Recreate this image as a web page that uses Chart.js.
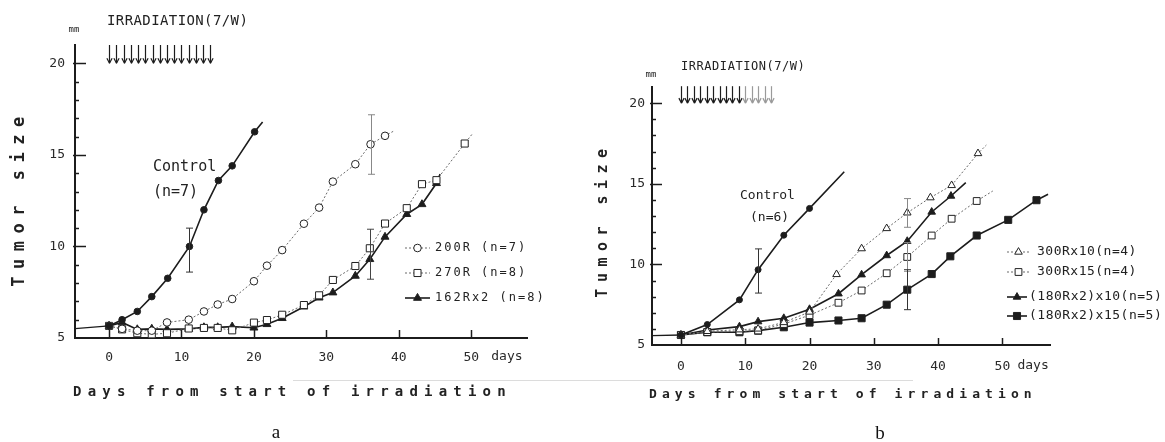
<!DOCTYPE html>
<html><head><meta charset="utf-8">
<script src="https://cdn.jsdelivr.net/npm/chart.js@4.4.1/dist/chart.umd.min.js"></script>
<style>
html,body{margin:0;padding:0;background:#fff;}
#wrap{position:relative;width:1165px;height:442px;overflow:hidden;background:#fff;}
canvas{position:absolute;left:0;top:0;}
#scan{position:absolute;left:293px;top:380px;width:620px;height:1px;background:#dcdcdc;}
</style></head>
<body><div id="wrap"><div id="scan"></div><canvas id="ca" width="1165" height="442"></canvas><canvas id="cb" width="1165" height="442"></canvas></div>
<script>
// ================= DATA =================
const Y_TICKS = [5, 10, 15, 20];
const X_TICKS = [0, 10, 20, 30, 40, 50];

// ---- panel a ----
const A_ARROW_DAYS = [0,1,2,3,4,5,6,7,8,9,10,11,12,13,14];
const A_PRE_DAYS = [-5, 0];
const A_PRE_MM = [5.5, 5.66];
const A_CONTROL_DAYS = [0, 1.8, 3.9, 5.9, 8.1, 11.1, 13.1, 15.1, 17.0, 20.1];
const A_CONTROL_MM   = [5.66, 6.0, 6.45, 7.26, 8.26, 10.0, 12.0, 13.6, 14.4, 16.26];
const A_CONTROL_TAIL = [21.2, 16.8];
const A_200R_DAYS = [0, 1.8, 3.9, 5.9, 8.0, 11.0, 13.1, 15.0, 17.0, 20.0, 21.8, 23.9, 26.9, 29.0, 30.9, 34.0, 36.1, 38.1];
const A_200R_MM   = [5.66, 5.5, 5.4, 5.4, 5.85, 6.0, 6.45, 6.83, 7.13, 8.1, 8.95, 9.8, 11.24, 12.12, 13.54, 14.49, 15.58, 16.04];
const A_200R_TAIL = [39.3, 16.3];
const A_270R_DAYS = [0, 1.8, 3.9, 5.9, 8.0, 11.0, 13.1, 15.0, 17.0, 20.0, 21.8, 23.9, 26.9, 29.0, 30.9, 34.0, 36.0, 38.1, 41.1, 43.2, 45.2, 49.1];
const A_270R_MM   = [5.66, 5.47, 5.26, 5.2, 5.26, 5.52, 5.55, 5.55, 5.42, 5.84, 5.98, 6.27, 6.8, 7.33, 8.17, 8.93, 9.9, 11.25, 12.09, 13.4, 13.62, 15.62];
const A_270R_TAIL = [50.2, 16.17];
const A_162R_DAYS = [0, 1.8, 3.9, 5.9, 8.0, 11.0, 13.1, 15.0, 17.0, 20.0, 21.8, 23.9, 26.9, 29.0, 30.9, 34.0, 36.0, 38.1, 41.1, 43.2, 45.2];
const A_162R_MM   = [5.66, 5.85, 5.47, 5.5, 5.47, 5.5, 5.58, 5.58, 5.62, 5.56, 5.75, 6.08, 6.71, 7.2, 7.48, 8.39, 9.3, 10.52, 11.76, 12.3, 13.45];
const A_162R_TAIL = [45.7, 13.95];
const A_ERR_DAYS = [11.1, 36.1, 36.0];
const A_ERR_LO   = [8.6, 13.94, 8.21];
const A_ERR_HI   = [11.0, 17.19, 10.94];

// ---- panel b ----
const B_ARROW_DAYS = [0,1,2,3,4,5,6,7,8,9,10,11,12,13,14];
const B_PRE_DAYS = [-5, 0];
const B_PRE_MM = [5.58, 5.62];
const B_CONTROL_DAYS = [0, 4.1, 9.1, 12.0, 16.0, 20.0];
const B_CONTROL_MM   = [5.62, 6.27, 7.8, 9.67, 11.81, 13.47];
const B_CONTROL_TAIL = [25.4, 15.74];
const B_300X10_DAYS = [0, 4.1, 9.1, 12.0, 16.0, 20.0, 24.2, 28.1, 32.0, 35.2, 38.8, 42.1, 46.2];
const B_300X10_MM   = [5.62, 5.85, 5.95, 6.0, 6.4, 7.05, 9.38, 10.98, 12.23, 13.2, 14.14, 14.9, 16.88];
const B_300X10_TAIL = [47.5, 17.4];
const B_300X15_DAYS = [0, 4.1, 9.1, 12.0, 16.0, 20.0, 24.5, 28.1, 32.0, 35.2, 39.0, 42.1, 46.0];
const B_300X15_MM   = [5.62, 5.8, 5.85, 5.9, 6.3, 6.85, 7.62, 8.38, 9.45, 10.46, 11.79, 12.83, 13.93];
const B_300X15_TAIL = [48.5, 14.55];
const B_180X10_DAYS = [0, 4.1, 9.1, 12.0, 16.0, 20.0, 24.5, 28.1, 32.0, 35.2, 39.0, 42.0];
const B_180X10_MM   = [5.62, 5.93, 6.14, 6.45, 6.66, 7.22, 8.18, 9.36, 10.55, 11.44, 13.25, 14.24];
const B_180X10_TAIL = [44.3, 15.07];
const B_180X15_DAYS = [0, 4.1, 9.1, 12.0, 16.0, 20.0, 24.5, 28.1, 32.0, 35.2, 39.0, 41.9, 46.0, 50.9, 55.3];
const B_180X15_MM   = [5.62, 5.79, 5.79, 5.89, 6.1, 6.39, 6.52, 6.66, 7.5, 8.43, 9.4, 10.5, 11.79, 12.76, 13.98];
const B_180X15_TAIL = [57.1, 14.35];
const B_ERR_DAYS = [12.0, 35.2, 35.2, 35.2];
const B_ERR_LO   = [8.22, 12.3, 9.57, 7.19];
const B_ERR_HI   = [10.96, 14.08, 11.35, 9.67];

// ================= RENDERING =================
const MONO = '"DejaVu Sans Mono","Liberation Mono",monospace';
const SERIF = '"Liberation Serif","DejaVu Serif",serif';
const INK = '#1c1c1c';

function seg(ctx, x1, y1, x2, y2) { ctx.beginPath(); ctx.moveTo(x1, y1); ctx.lineTo(x2, y2); ctx.stroke(); }
function txt(ctx, s, x, y, o) {
  ctx.save();
  ctx.font = (o.weight || 'normal') + ' ' + o.size + 'px ' + (o.family || MONO);
  ctx.fillStyle = o.color || '#222';
  ctx.textAlign = o.align || 'left';
  ctx.textBaseline = o.baseline || 'middle';
  if ('letterSpacing' in ctx) ctx.letterSpacing = (o.ls || 0) + 'px';
  if (o.rot) { ctx.translate(x, y); ctx.rotate(o.rot); ctx.fillText(s, 0, 0); }
  else ctx.fillText(s, x, y);
  ctx.restore();
}
function marker(ctx, style, x, y, r, filled) {
  ctx.save();
  ctx.setLineDash([]);
  ctx.beginPath();
  if (style === 'circle') ctx.arc(x, y, r, 0, Math.PI * 2);
  else if (style === 'rect') { const s = r * Math.SQRT1_2; ctx.rect(x - s, y - s, 2 * s, 2 * s); }
  else { ctx.moveTo(x, y - r); ctx.lineTo(x + r * 0.866, y + r * 0.5); ctx.lineTo(x - r * 0.866, y + r * 0.5); ctx.closePath(); }
  ctx.fillStyle = filled ? INK : '#fff'; ctx.fill();
  ctx.lineWidth = 1; ctx.strokeStyle = '#222'; ctx.stroke();
  ctx.restore();
}
function lineStyle(s) {
  return s.dotted ? {c: '#6a6a6a', w: 1, d: [2, 2]} : {c: INK, w: 1.6, d: []};
}

function decor(P) {
  return {
    id: 'decor',
    afterDatasetsDraw(chart) {
      const ctx = chart.ctx, xs = chart.scales.x, ys = chart.scales.y;
      ctx.save();
      P.errs.days.forEach((d, i) => {
        const px = Math.round(xs.getPixelForValue(d)) + 0.5;
        const y1 = ys.getPixelForValue(P.errs.lo[i]), y2 = ys.getPixelForValue(P.errs.hi[i]);
        ctx.strokeStyle = P.errs.color[i]; ctx.lineWidth = 1; ctx.setLineDash([]);
        seg(ctx, px, y1, px, y2); seg(ctx, px - 3.5, y1, px + 3.5, y1); seg(ctx, px - 3.5, y2, px + 3.5, y2);
      });
      ctx.restore();
    },
    afterDraw(chart) {
      const ctx = chart.ctx, xs = chart.scales.x, ys = chart.scales.y, ca = chart.chartArea;
      ctx.save();
      ctx.strokeStyle = INK; ctx.lineWidth = 1.5; ctx.setLineDash([]);
      P.xTicks.forEach(v => { const px = Math.round(xs.getPixelForValue(v)) + 0.5; seg(ctx, px, ca.bottom, px, ca.bottom - P.xTickLen); });
      for (let v = P.ymin + 1; v < P.ymax; v++) {
        const py = Math.round(ys.getPixelForValue(v)) + 0.5;
        const len = (v % 5 === 0) ? P.yMajorLen : P.yMinorLen;
        seg(ctx, ca.left - ((v % 5 === 0) ? 2 : 0), py, ca.left + len, py);
      }
      const at = ys.getPixelForValue(P.arrows.top), ab = ys.getPixelForValue(P.arrows.bot);
      P.arrows.days.forEach((d, i) => {
        const px = Math.round(xs.getPixelForValue(d)) + 0.5;
        ctx.strokeStyle = i < P.arrows.dark ? INK : '#9a9a9a'; ctx.lineWidth = 1.2;
        seg(ctx, px, at, px, ab);
        seg(ctx, px - 2.6, ab - 5, px, ab); seg(ctx, px + 2.6, ab - 5, px, ab);
      });
      txt(ctx, 'days', xs.getPixelForValue(P.xTicks[P.xTicks.length - 1]) + P.daysDx, xs.top + P.xTickPad, {size: P.tickSize, baseline: 'top', color: '#2a2a2a'});
      P.texts.forEach(t => txt(ctx, t.s, t.x, t.y, t));
      P.legend.forEach(l => {
        const s = P.series[l.i], st = lineStyle(s);
        ctx.save(); ctx.strokeStyle = st.c; ctx.lineWidth = st.w; ctx.setLineDash(st.d);
        seg(ctx, l.x1, l.y, l.x2, l.y); ctx.restore();
        marker(ctx, s.style, (l.x1 + l.x2) / 2, l.y, s.r, s.filled);
        txt(ctx, s.label, l.tx, l.y, {size: P.legendSize, ls: P.legendLs, color: '#222'});
      });
      ctx.restore();
    }
  };
}

function buildChart(id, P) {
  const ds = [];
  ds.push({label: 'pre', data: P.pre.x.map((x, i) => ({x, y: P.pre.y[i]})), showLine: true,
    borderColor: INK, borderWidth: 1.4, pointRadius: 0, clip: 0});
  P.series.forEach(s => {
    const data = s.x.map((x, i) => ({x, y: s.y[i]}));
    const rad = data.map(() => s.r);
    if (s.tail) { data.push({x: s.tail[0], y: s.tail[1]}); rad.push(0); }
    const st = lineStyle(s);
    ds.push({label: s.label, data, showLine: true, tension: 0,
      borderColor: st.c, borderWidth: st.w, borderDash: st.d,
      pointStyle: s.style, pointRadius: rad, pointHoverRadius: rad,
      pointBackgroundColor: s.filled ? INK : '#fff', pointBorderColor: '#222', pointBorderWidth: 1});
  });
  return new Chart(document.getElementById(id), {
    type: 'scatter',
    data: {datasets: ds},
    options: {
      responsive: false, animation: false, devicePixelRatio: 1, events: [],
      layout: {padding: P.pad},
      plugins: {legend: {display: false}, tooltip: {enabled: false}},
      scales: {
        x: {type: 'linear', min: P.xmin, max: P.xmax,
          afterBuildTicks: sc => { sc.ticks = P.xTicks.map(v => ({value: v})); },
          afterFit: sc => { sc.height = P.xH; },
          grid: {display: false, drawTicks: false},
          border: {display: true, color: INK, width: 2},
          ticks: {padding: P.xTickPad, color: '#2a2a2a', font: {family: MONO, size: P.tickSize}, maxRotation: 0, autoSkip: false}},
        y: {type: 'linear', min: P.ymin, max: P.ymax,
          afterBuildTicks: sc => { sc.ticks = P.yTicks.map(v => ({value: v})); },
          afterFit: sc => { sc.width = P.yW; },
          grid: {display: false, drawTicks: false},
          border: {display: true, color: INK, width: 2},
          ticks: {padding: P.yTickPad, color: '#2a2a2a', font: {family: MONO, size: P.tickSize}, autoSkip: false}}
      }
    },
    plugins: [decor(P)]
  });
}

const PANEL_A = {
  pad: {left: 0, top: 45, right: 638, bottom: 74}, yW: 75, xH: 30,
  xmin: -4.7, xmax: 57.7, ymin: 5, ymax: 21,
  xTicks: X_TICKS, yTicks: Y_TICKS, tickSize: 13, xTickPad: 12, yTickPad: 10, daysDx: 20,
  xTickLen: 8, yMajorLen: 11, yMinorLen: 4,
  arrows: {days: A_ARROW_DAYS, dark: 15, top: 21, bot: 20},
  pre: {x: A_PRE_DAYS, y: A_PRE_MM},
  series: [
    {label: 'Control', x: A_CONTROL_DAYS, y: A_CONTROL_MM, tail: A_CONTROL_TAIL, style: 'circle', filled: true, dotted: false, r: 3.3},
    {label: '200R (n=7)', x: A_200R_DAYS, y: A_200R_MM, tail: A_200R_TAIL, style: 'circle', filled: false, dotted: true, r: 3.8},
    {label: '270R (n=8)', x: A_270R_DAYS, y: A_270R_MM, tail: A_270R_TAIL, style: 'rect', filled: false, dotted: true, r: 5},
    {label: '162Rx2 (n=8)', x: A_162R_DAYS, y: A_162R_MM, tail: A_162R_TAIL, style: 'triangle', filled: true, dotted: false, r: 4.6}
  ],
  errs: {days: A_ERR_DAYS, lo: A_ERR_LO, hi: A_ERR_HI, color: ['#333', '#888', '#444']},
  legendSize: 12, legendLs: 2,
  legend: [
    {i: 1, x1: 405, x2: 430, tx: 435, y: 248},
    {i: 2, x1: 405, x2: 430, tx: 435, y: 273},
    {i: 3, x1: 405, x2: 430, tx: 435, y: 298}
  ],
  texts: [
    {s: 'IRRADIATION(7/W)', x: 107, y: 21, size: 14, ls: 0.4},
    {s: 'mm', x: 74, y: 30, size: 9, align: 'center'},
    {s: 'Control', x: 153, y: 167, size: 15},
    {s: '(n=7)', x: 153, y: 192, size: 15},
    {s: 'Days from start of irradiation', x: 73, y: 392, size: 14, weight: 'bold', ls: 6.2},
    {s: 'Tumor size', x: 20, y: 198, size: 17, weight: 'bold', ls: 7.5, align: 'center', rot: -Math.PI / 2},
    {s: 'a', x: 276, y: 433, size: 19, family: SERIF, align: 'center', color: '#111'}
  ]
};

const PANEL_B = {
  pad: {left: 592, top: 87, right: 115, bottom: 67}, yW: 60, xH: 30,
  xmin: -4.5, xmax: 57.4, ymin: 5, ymax: 21,
  xTicks: X_TICKS, yTicks: Y_TICKS, tickSize: 13, xTickPad: 14, yTickPad: 7, daysDx: 15,
  xTickLen: 7, yMajorLen: 10, yMinorLen: 4,
  arrows: {days: B_ARROW_DAYS, dark: 10, top: 21.05, bot: 20},
  pre: {x: B_PRE_DAYS, y: B_PRE_MM},
  series: [
    {label: 'Control', x: B_CONTROL_DAYS, y: B_CONTROL_MM, tail: B_CONTROL_TAIL, style: 'circle', filled: true, dotted: false, r: 3},
    {label: '300Rx10(n=4)', x: B_300X10_DAYS, y: B_300X10_MM, tail: B_300X10_TAIL, style: 'triangle', filled: false, dotted: true, r: 4.4},
    {label: '300Rx15(n=4)', x: B_300X15_DAYS, y: B_300X15_MM, tail: B_300X15_TAIL, style: 'rect', filled: false, dotted: true, r: 4.8},
    {label: '(180Rx2)x10(n=5)', x: B_180X10_DAYS, y: B_180X10_MM, tail: B_180X10_TAIL, style: 'triangle', filled: true, dotted: false, r: 4.4},
    {label: '(180Rx2)x15(n=5)', x: B_180X15_DAYS, y: B_180X15_MM, tail: B_180X15_TAIL, style: 'rect', filled: true, dotted: false, r: 5}
  ],
  errs: {days: B_ERR_DAYS, lo: B_ERR_LO, hi: B_ERR_HI, color: ['#333', '#888', '#888', '#333']},
  legendSize: 13, legendLs: 0.5,
  legend: [
    {i: 1, x1: 1007, x2: 1030, tx: 1037, y: 252},
    {i: 2, x1: 1007, x2: 1030, tx: 1037, y: 272},
    {i: 3, x1: 1007, x2: 1027, tx: 1029, y: 297},
    {i: 4, x1: 1007, x2: 1027, tx: 1029, y: 316}
  ],
  texts: [
    {s: 'IRRADIATION(7/W)', x: 681, y: 67, size: 12, ls: 0.55},
    {s: 'mm', x: 651, y: 75, size: 9, align: 'center'},
    {s: 'Control', x: 740, y: 196, size: 13},
    {s: '(n=6)', x: 750, y: 218, size: 13},
    {s: 'Days from start of irradiation', x: 649, y: 395, size: 13, weight: 'bold', ls: 5.1},
    {s: 'Tumor size', x: 603, y: 220, size: 15, weight: 'bold', ls: 6.5, align: 'center', rot: -Math.PI / 2},
    {s: 'b', x: 880, y: 434, size: 19, family: SERIF, align: 'center', color: '#111'}
  ]
};

buildChart('ca', PANEL_A);
buildChart('cb', PANEL_B);
</script>
</body></html>
